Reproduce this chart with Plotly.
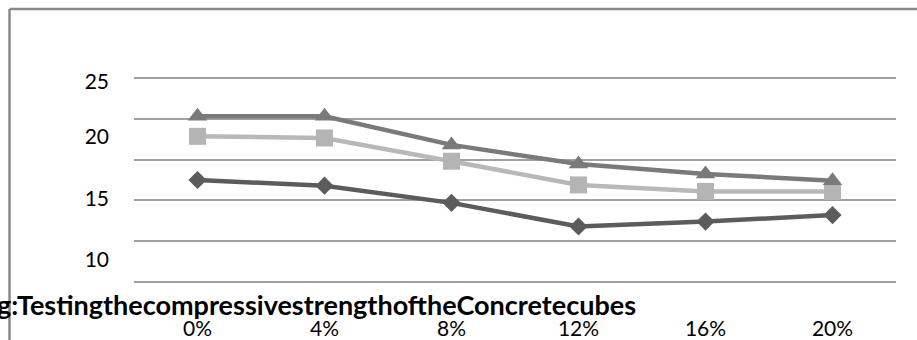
import plotly.graph_objects as go

categories = ["0%", "4%", "8%", "12%", "16%", "20%"]
series_7d = [12.5, 11.8, 9.7, 6.8, 7.4, 8.2]
series_14d = [17.85, 17.65, 14.8, 11.9, 11.1, 11.1]
series_28d = [20.3, 20.3, 16.8, 14.45, 13.25, 12.4]
y_tick_text = ["25", "20", "15", "10"]
y_tick_pos = [24.55, 17.8, 10.17, 2.7]
title_text = "Fig:TestingthecompressivestrengthoftheConcretecubes"

W, H = 917, 340
# plot area in pixels: gridline 25 at y=78, gridline 0 at y=282 (8.16 px/unit)
L, R, T, B = 134, 896, 74, 286
Y_RANGE = [-0.49, 25.49]


def px_x(p):
    return (p - L) / (R - L)


def px_y(p):
    return (B - p) / (B - T)


fig = go.Figure()
fig.add_trace(go.Scatter(
    x=categories, y=series_7d, mode="lines+markers", name="7 days",
    line=dict(color="#5c5c5c", width=4.5),
    marker=dict(symbol="diamond", size=14, color="#5c5c5c"),
))
fig.add_trace(go.Scatter(
    x=categories, y=series_14d, mode="lines+markers", name="14 days",
    line=dict(color="#b8b8b8", width=4.5),
    marker=dict(symbol="square", size=17, color="#b4b4b4"),
))
fig.add_trace(go.Scatter(
    x=categories, y=series_28d, mode="lines+markers", name="28 days",
    line=dict(color="#7a7a7a", width=4.5),
    marker=dict(symbol="triangle-up", size=17, color="#7a7a7a"),
))
# invisible trace to activate secondary y axis for the labels
fig.add_trace(go.Scatter(x=[categories[0]], y=[None], yaxis="y2",
                         showlegend=False, hoverinfo="skip"))

fig.update_layout(
    width=W, height=H,
    margin=dict(l=L, r=W - R, t=T, b=H - B, autoexpand=False),
    plot_bgcolor="white", paper_bgcolor="white",
    showlegend=False,
    font=dict(family="Lato, sans-serif", color="#000000"),
    xaxis=dict(
        type="category", range=[-0.5, 5.5], automargin=False,
        showgrid=False, showline=False, zeroline=False,
        ticks="", tickfont=dict(size=21, color="#000000"),
        ticklabelstandoff=28,
    ),
    yaxis=dict(
        range=Y_RANGE, dtick=5, tick0=0, automargin=False,
        showgrid=True, gridcolor="#a0a0a0", gridwidth=2,
        zeroline=False, showline=False, showticklabels=False, ticks="",
    ),
    yaxis2=dict(
        overlaying="y", side="left", range=Y_RANGE, automargin=False,
        tickmode="array", tickvals=y_tick_pos, ticktext=y_tick_text,
        showgrid=False, zeroline=False, showline=False, ticks="",
        tickfont=dict(size=21, color="#000000"),
        ticklabelstandoff=24,
    ),
    shapes=[
        dict(type="line", xref="paper", yref="paper",
             x0=px_x(9.5), x1=px_x(930), y0=px_y(9), y1=px_y(9),
             line=dict(color="#8a8a8a", width=2.5)),
        dict(type="line", xref="paper", yref="paper",
             x0=px_x(9.5), x1=px_x(9.5), y0=px_y(9), y1=px_y(360),
             line=dict(color="#8a8a8a", width=2.5)),
    ],
    annotations=[
        dict(text="<b>" + title_text + "</b>", xref="paper", yref="paper",
             x=px_x(638), y=px_y(304), xanchor="right", yanchor="middle",
             showarrow=False, font=dict(size=27, color="#000000",
                                        family="Lato, sans-serif")),
    ],
)

fig.write_html("out.html", config={"displayModeBar": False},
               post_script="document.body.style.margin='0';")
